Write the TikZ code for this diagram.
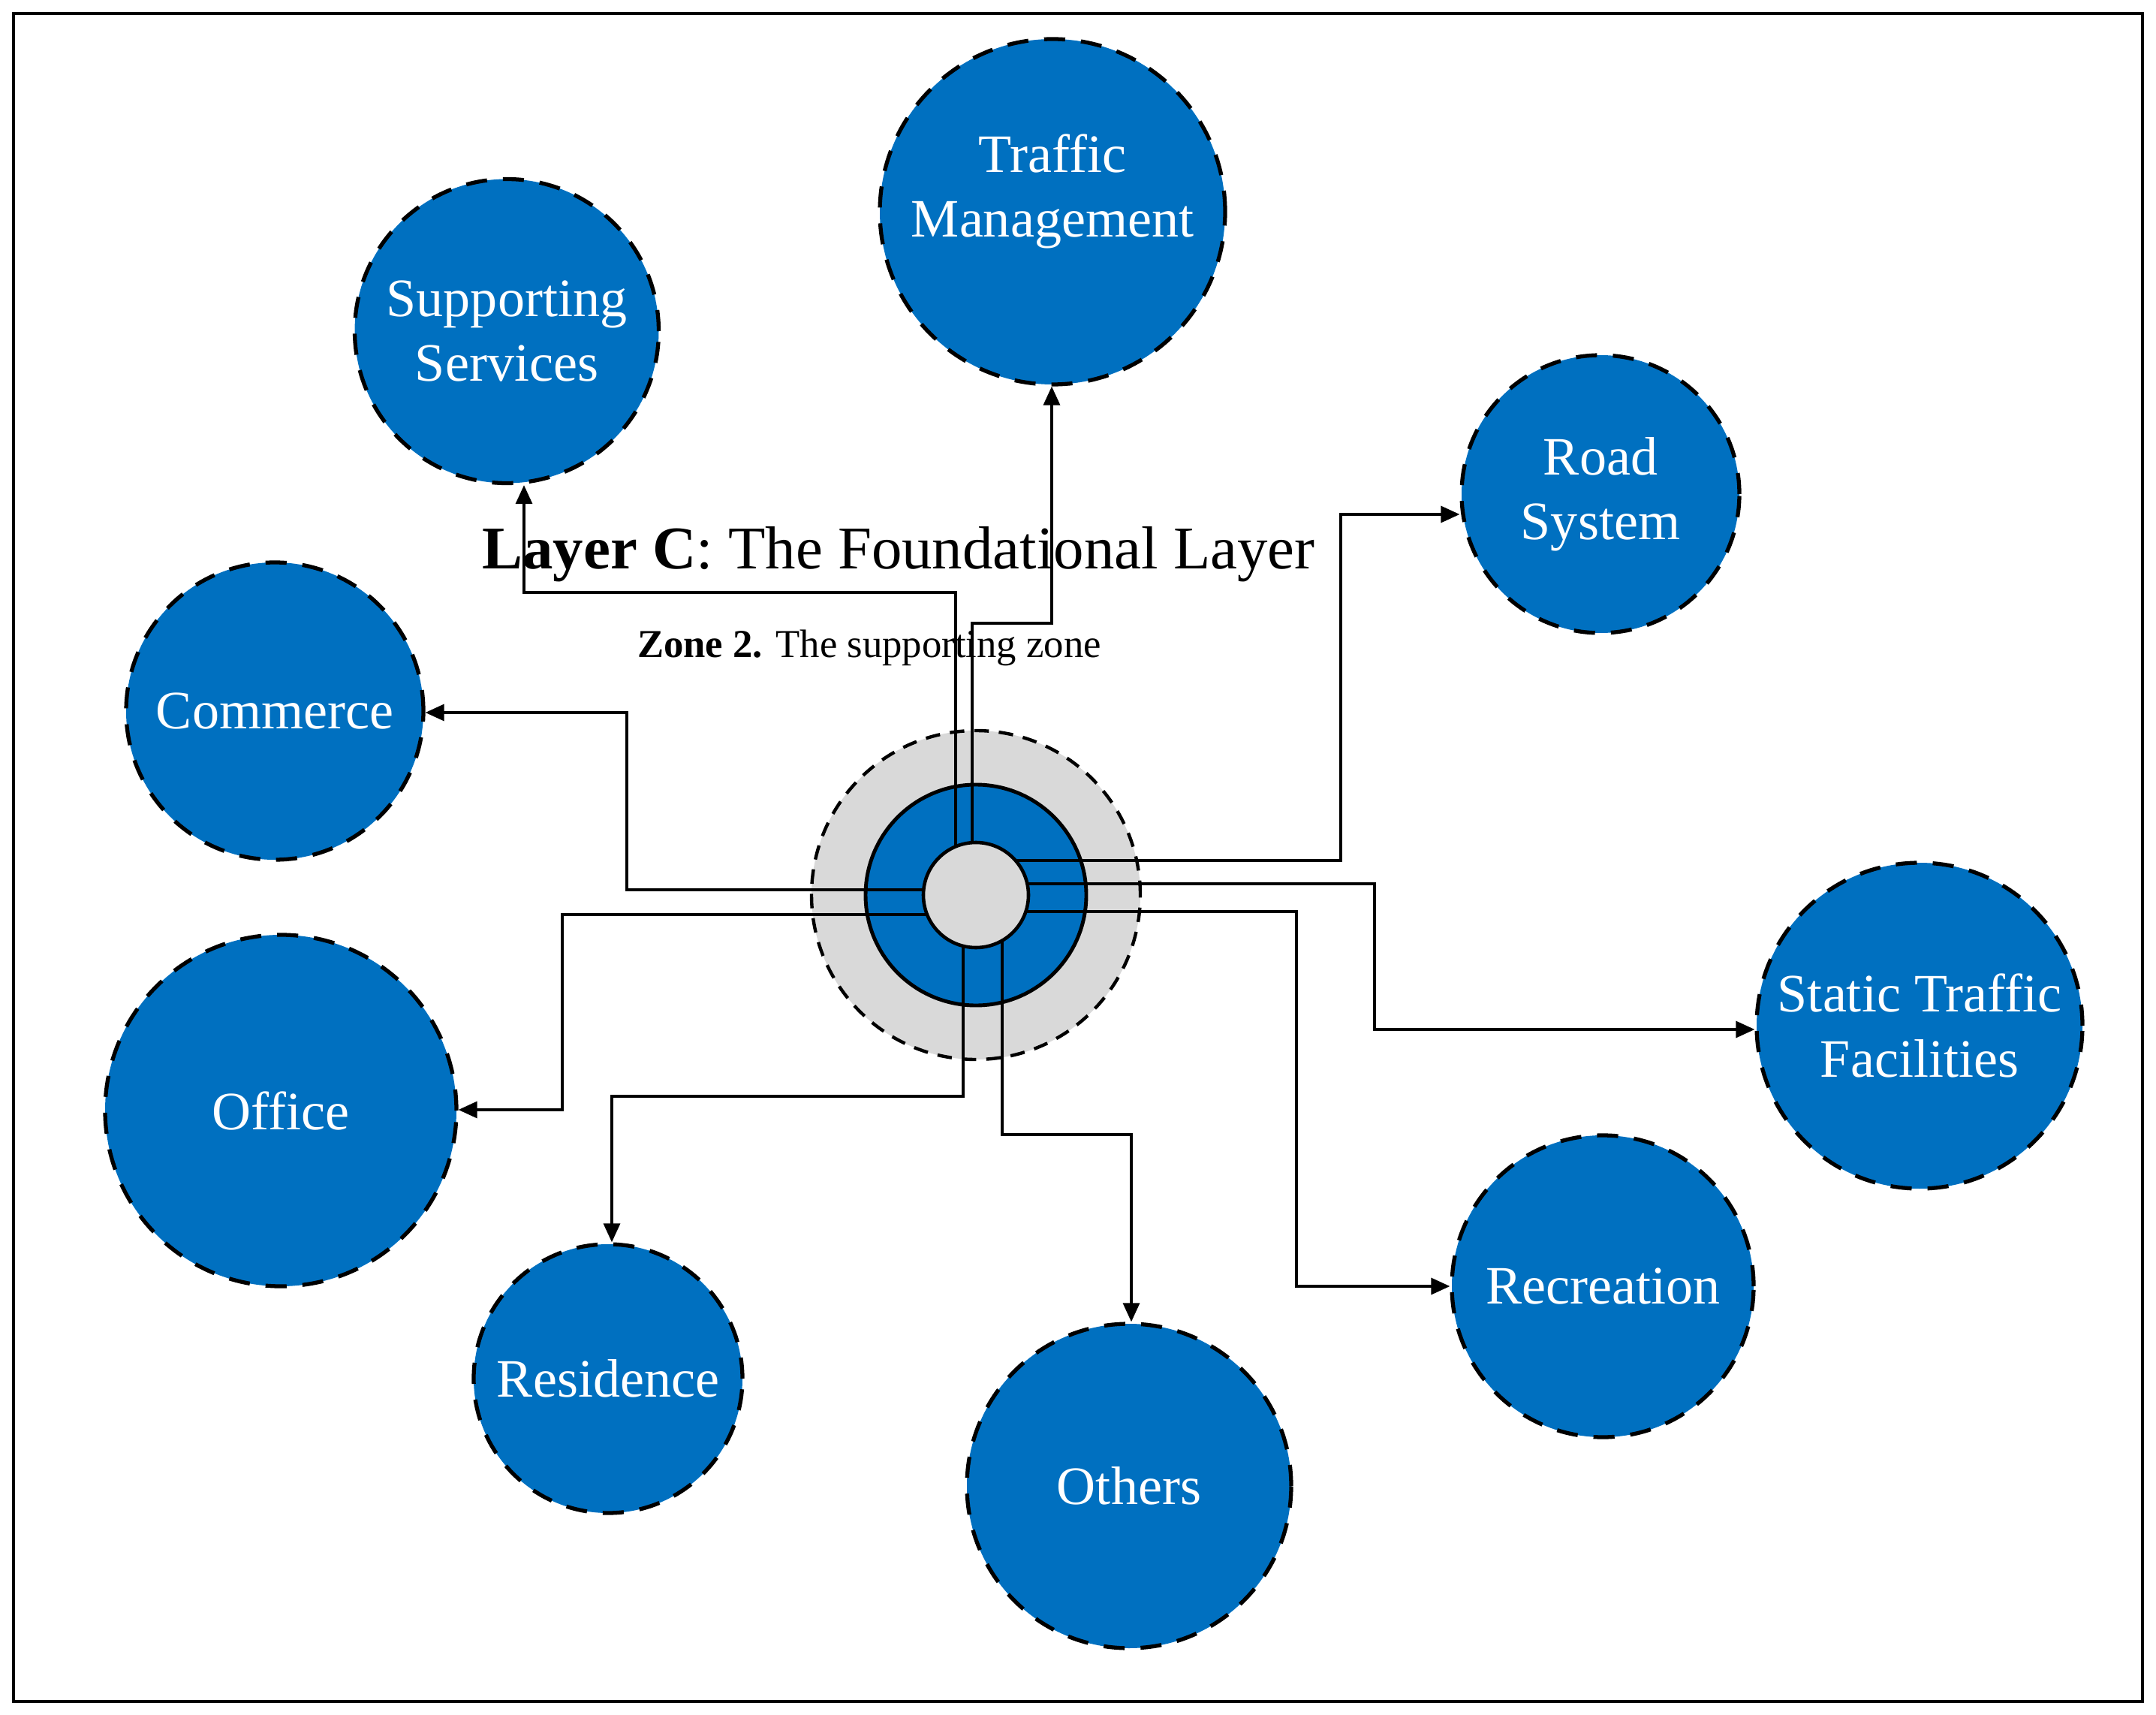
\documentclass[tikz,border=0pt]{standalone}
\usepackage{fontspec}
\setmainfont{Liberation Serif}
\usetikzlibrary{arrows.meta,positioning,calc}
\definecolor{lcblue}{RGB}{0,112,192}
\definecolor{lcgray}{RGB}{217,217,217}
\tikzset{
    bubble/.style={
        circle,draw=black,line width=1.5pt,dash pattern=on 8pt off 6pt,
        fill=lcblue,text=white,align=center,inner sep=0pt,
        minimum size=#1,font=\fontsize{20.5}{24.5}\selectfont
    },
    bubble/.default=4cm,
    link/.style={
        -{Triangle[length=2.5mm,width=2.2mm]},line width=0.95pt,draw=black
    }
}

\begin{document}
\begin{tikzpicture}
\useasboundingbox (0,0) rectangle (28.72,-22.84);
\draw[line width=0.9pt] (0.18,-0.18) rectangle (28.54,-22.66);

% centre of the layer
\node[
circle,draw=black,line width=1.25pt,dash pattern=on 5.5pt off 3.8pt,
fill=lcgray,minimum size=4.38cm
](zone) at (13,-11.92) {};
\node[
circle,draw=black,line width=1.4pt,fill=lcblue,minimum size=2.94cm
](ring) at (zone) {};

\node[bubble=4.6cm] (tm) at (14.02,-2.82) {Traffic\\Management\\[-4.6pt]\mbox{}};
\node[bubble=4.05cm] (ss) at (6.75,-4.41) {Supporting\\Services};
\node[bubble=3.7cm] (rs) at (21.32,-6.58) {Road\\System};
\node[bubble=3.96cm] (cm) at (3.66,-9.47) {Commerce};
\node[bubble=4.68cm] (of) at (3.74,-14.79) {Office};
\node[bubble=4.34cm] (st) at (25.57,-13.66) {Static Traffic\\Facilities};
\node[bubble=4.02cm] (rc) at (21.35,-17.13) {Recreation};
\node[bubble=3.58cm] (rd) at (8.10,-18.36) {Residence};
\node[bubble=4.32cm] (ot) at (15.04,-19.79) {Others};

\node[font=\fontsize{23}{27}\selectfont] (title) at (11.97,-7.38)
{\textbf{Layer C}: The Foundational Layer};
\node[font=\fontsize{15}{18}\selectfont] (sub) at (11.58,-8.63)
{\textbf{Zone 2.} The supporting zone};

% bends of the links
\coordinate (b1) at (6.98,-7.89);
\coordinate (b2) at (14.01,-8.30);
\coordinate (b3) at (17.86,-6.85);
\coordinate (b4) at (18.31,-13.71);
\coordinate (b5) at (17.27,-17.13);
\coordinate (b6) at (8.35,-9.49);
\coordinate (b7) at (7.49,-14.78);
\coordinate (b8) at (8.15,-14.60);
\coordinate (b9) at (15.07,-15.11);

\draw[link] ([xshift=-0.27cm]ring.center) |- (b1) -- (b1 |- ss.south);
\draw[link] ([xshift=-0.05cm]ring.center) |- (b2) -- (b2 |- tm.south);
\draw[link] ([yshift=0.46cm]ring.center) -| (b3) -- (b3 -| rs.west);
\draw[link] ([yshift=0.15cm]ring.center) -| (b4) -- (b4 -| st.west);
\draw[link] ([yshift=-0.22cm]ring.center) -| (b5) -- (b5 -| rc.west);
\draw[link] ([yshift=0.07cm]ring.center) -| (b6) -- (b6 -| cm.east);
\draw[link] ([yshift=-0.26cm]ring.center) -| (b7) -- (b7 -| of.east);
\draw[link] ([xshift=-0.17cm]ring.center) |- (b8) -- (b8 |- rd.north);
\draw[link] ([xshift=0.35cm]ring.center) |- (b9) -- (b9 |- ot.north);

\node[
circle,draw=black,line width=1.3pt,fill=lcgray,minimum size=1.4cm
](core) at (ring) {};

\end{tikzpicture}
\end{document}
